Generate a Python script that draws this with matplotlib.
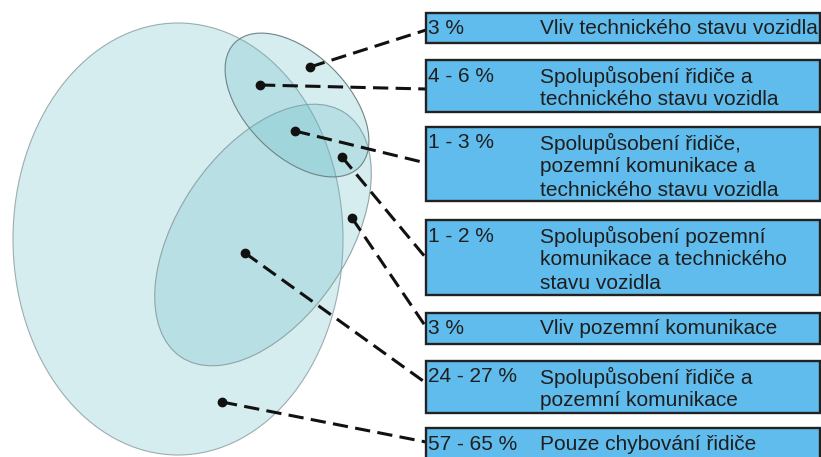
import matplotlib
matplotlib.use('Agg')
import matplotlib.pyplot as plt
from matplotlib.patches import Ellipse, Rectangle

plt.rcParams['font.family'] = ['Liberation Sans', 'DejaVu Sans']

# data: share of accidents by cause
percents = ['3 %', '4 - 6 %', '1 - 3 %', '1 - 2 %', '3 %', '24 - 27 %', '57 - 65 %']
descriptions = [
    ['Vliv technického stavu vozidla'],
    ['Spolupůsobení řidiče a', 'technického stavu vozidla'],
    ['Spolupůsobení řidiče,', 'pozemní komunikace a', 'technického stavu vozidla'],
    ['Spolupůsobení pozemní', 'komunikace a technického', 'stavu vozidla'],
    ['Vliv pozemní komunikace'],
    ['Spolupůsobení řidiče a', 'pozemní komunikace'],
    ['Pouze chybování řidiče'],
]

# layout (pixel coordinates, y downwards)
ellipses = [  # driver, road, vehicle
    ((178, 239), 330, 432, 0, '#9aadb0'),
    ((263, 235), 294, 170, -56, '#8fa5a8'),
    ((297, 105), 176, 102, 45, '#6f8487'),
]
dots = [(310, 67), (260, 85), (295, 131), (342, 157), (352, 218), (245, 253), (222, 402)]
line_ends = [30, 89, 163, 258, 327, 383, 442]
box_tops = [13, 60, 127, 220, 313, 361, 428]
box_bottoms = [43, 112, 201, 295, 344, 413, 475]
box_left, box_right = 426, 820

fig = plt.figure(figsize=(8.21, 4.57), dpi=100)
ax = fig.add_axes([0, 0, 1, 1])
ax.set_xlim(0, 821)
ax.set_ylim(457, 0)
ax.axis('off')

for (cx, cy), w, h, ang, ec in ellipses:
    ax.add_patch(Ellipse((cx, cy), w, h, angle=ang, facecolor=(0.36, 0.72, 0.77),
                         alpha=0.25, edgecolor='none'))
    ax.add_patch(Ellipse((cx, cy), w, h, angle=ang, facecolor='none',
                         edgecolor=ec, linewidth=0.8))

for (x, y), ye in zip(dots, line_ends):
    ax.plot([x, box_left], [y, ye], color='#111111', lw=2.2,
            linestyle=(0, (5, 2.4)), solid_capstyle='butt')
    ax.plot(x, y, 'o', color='#111111', markersize=6)

line_gap = 23.7
for i in range(len(percents)):
    top, bottom = box_tops[i], box_bottoms[i]
    ax.add_patch(Rectangle((box_left, top), box_right - box_left, bottom - top,
                           facecolor='#60bcec', edgecolor='#222222', linewidth=1.7,
                           zorder=3))
    ax.text(428, top + 16, percents[i], fontsize=15, color='#1e1e1e',
            va='center', ha='left', zorder=4)
    for j, line in enumerate(descriptions[i]):
        ax.text(540, top + 16 + j * line_gap, line, fontsize=15, color='#1e1e1e',
                va='center', ha='left', zorder=4)

fig.savefig('out.png', dpi=100, facecolor='white')
